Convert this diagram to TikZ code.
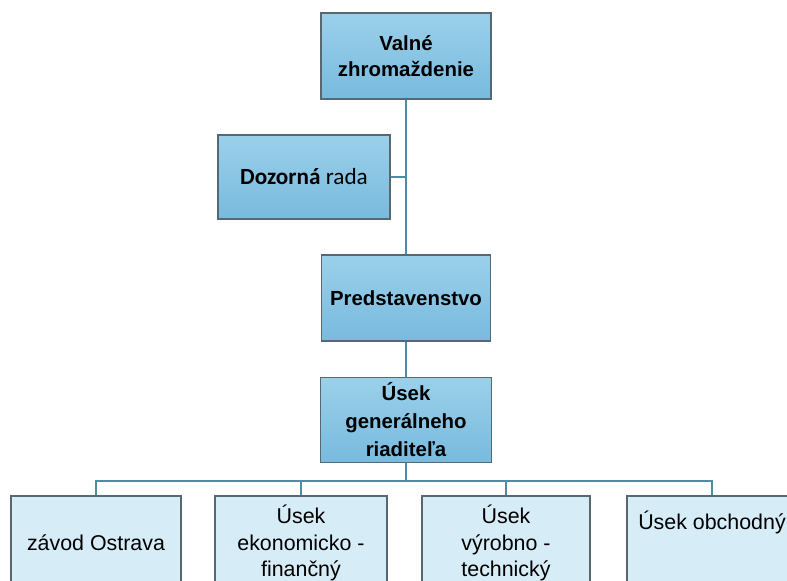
\documentclass[tikz,border=0pt]{standalone}
\usepackage{fontspec}
\setmainfont{Liberation Sans}
\newfontfamily\calfont{Carlito}
\definecolor{boxline}{RGB}{88,104,112}
\definecolor{topA}{RGB}{155,208,234}
\definecolor{topB}{RGB}{120,186,222}
\definecolor{childfill}{RGB}{214,236,247}
\definecolor{linecol}{RGB}{78,140,162}
\begin{document}
\begin{tikzpicture}[x=0.5pt, y=-0.5pt,
    topbox/.style={draw=boxline, line width=0.8pt, top color=topA, bottom color=topB,
      minimum width=85pt, minimum height=43pt, align=center, inner sep=2pt,
      font=\bfseries\fontsize{10.2}{13.2}\selectfont},
    childbox/.style={draw=boxline, line width=0.6pt, fill=childfill,
      minimum width=85pt, minimum height=47pt, align=center, inner sep=2pt,
      font=\fontsize{10.7}{13.3}\selectfont},
    conn/.style={draw=linecol, line width=0.9pt},
  ]
    \useasboundingbox (0,0) rectangle (787,580);
    \clip (0,0) rectangle (787,580);

    % top of the chart
    \node[topbox] (valne) at (406,56) {Valné\\zhromaždenie};
    \node[topbox, minimum width=86pt, minimum height=42pt,
      font=\calfont\fontsize{11.6}{13}\selectfont] (dozor) at (304,177)
      {\textbf{Dozorná} rada};
    \node[topbox, minimum width=84.5pt] (pred) at (406,298) {Predstavenstvo};
    \node[topbox, minimum width=85.5pt, minimum height=42.5pt,
      font=\bfseries\fontsize{10.2}{14}\selectfont] (usek) at (406,420)
      {Úsek\\generálneho\\riaditeľa};

    % departments (cut off by the page edge)
    \node[childbox] (zavod) at (96,543) {závod Ostrava};
    \node[childbox, minimum width=86pt] (ekon) at (301,543) {Úsek\\ekonomicko -\\finančný};
    \node[childbox, minimum width=84pt] (vyrob) at (506,543) {Úsek\\výrobno -\\technický};
    \node[childbox] (obch) at (712,543) {Úsek obchodný\\[-0.35em]~\\~};

    % connectors
    \coordinate (dozj) at (valne.south |- dozor.east);
    \draw[conn] (valne.south) -- (pred.north);
    \draw[conn] (dozor.east) -- (dozj);
    \draw[conn] (pred.south) -- (usek.north);
    \foreach \c in {zavod,ekon,vyrob,obch}
      \draw[conn] (usek.south) -- ++(0,18) -| (\c.north);
\end{tikzpicture}
\end{document}
